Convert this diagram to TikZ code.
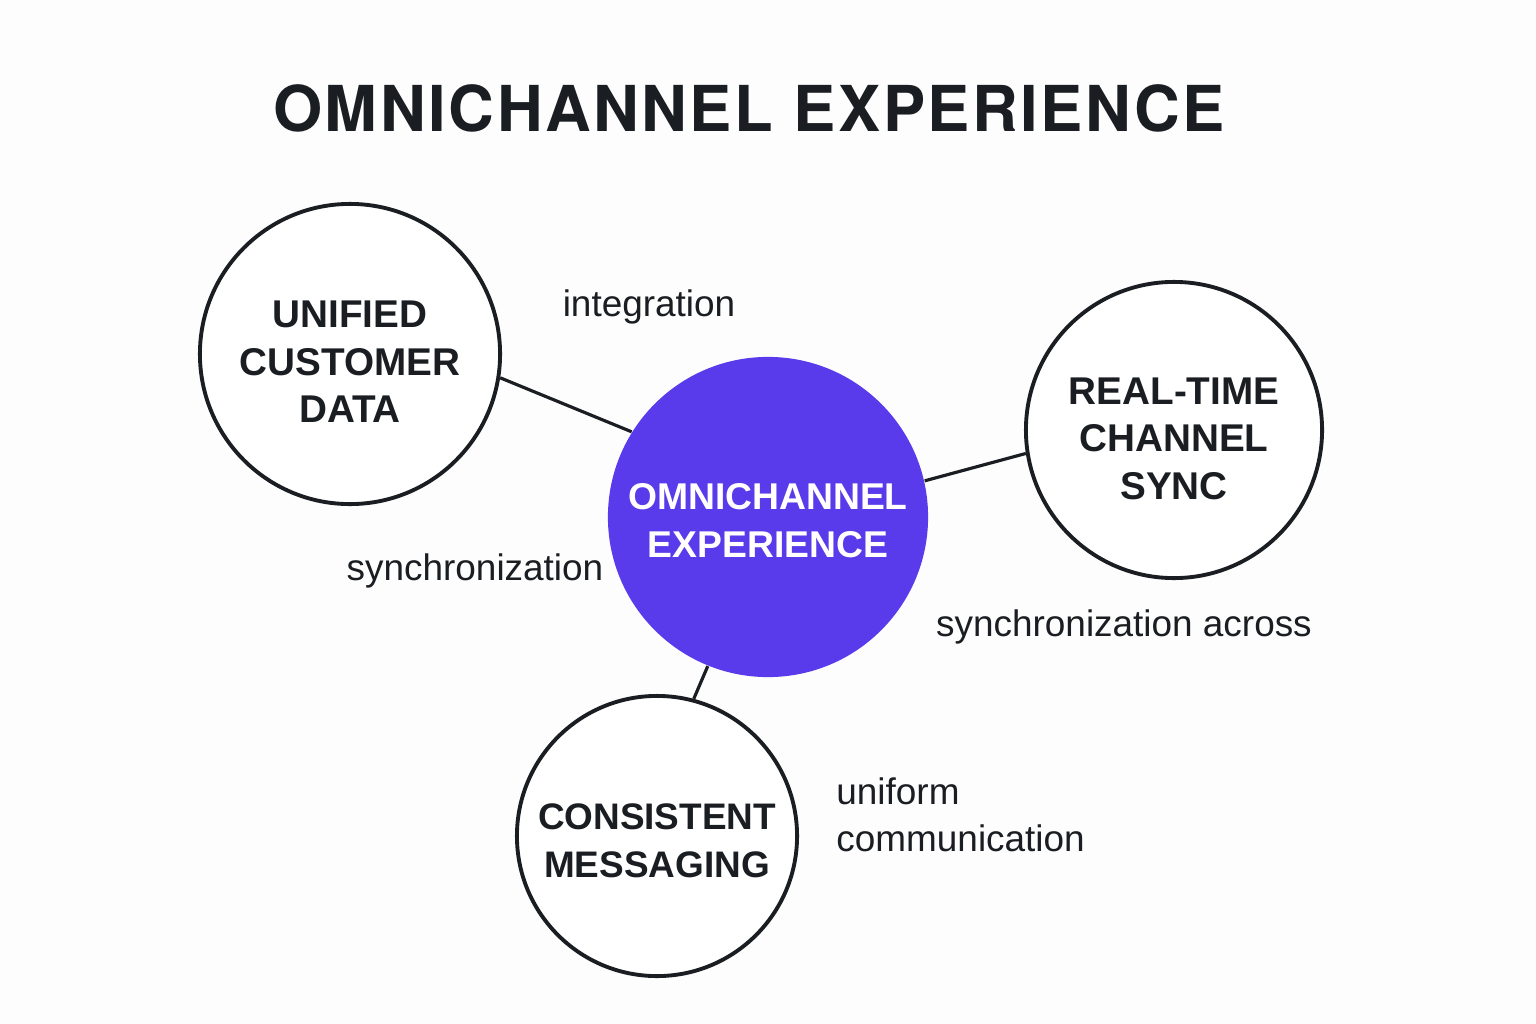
\documentclass[tikz,border=0pt]{standalone}
\usepackage{fontspec}
\setmainfont{Liberation Sans}
\newfontfamily\titlefont[LetterSpace=4]{TeX Gyre Heros}
\usepackage{tikz}
\definecolor{inkdark}{HTML}{1A1D21}
\definecolor{omniblue}{HTML}{5A3BEB}
\definecolor{paper}{HTML}{FDFDFD}
\newcommand{\hubstrut}[1]{\rule{0pt}{#1}}

\begin{document}
\begin{tikzpicture}[x=0.01cm, y=-0.01cm,
    hub/.style={circle, draw=inkdark, line width=1.1pt, fill=white, inner sep=0pt, minimum size=3cm,
        align=center, text=inkdark, font=\fontsize{11}{13.5}\selectfont\bfseries},
    link/.style={draw=inkdark, line width=0.9pt},
    note/.style={text=inkdark, font=\fontsize{10.5}{13.4}\selectfont}]
    \fill[paper] (0, 0) rectangle (1536, 1024);
    \useasboundingbox (0, 0) rectangle (1536, 1024);

    % Title
    \node[text=inkdark, font=\fontsize{18}{22}\selectfont\titlefont\bfseries] (title) at (749, 108) {OMNICHANNEL EXPERIENCE};

    % The centre and the three channels
    \node[circle, fill=omniblue, inner sep=0pt, minimum size=3.2cm, align=center, text=white,
        font=\fontsize{10.6}{13.4}\selectfont\bfseries] (omni) at (768, 517) {\hubstrut{9.5pt}OMNICHANNEL\\EXPERIENCE};
    \node[hub] (unified) at (350, 354) {\hubstrut{12pt}UNIFIED\\CUSTOMER\\DATA};
    \node[hub, minimum size=2.96cm] (realtime) at (1174, 430) {\hubstrut{12.5pt}REAL-TIME\\CHANNEL\\SYNC};
    \node[hub, minimum size=2.8cm, font=\fontsize{10.5}{13.5}\selectfont\bfseries] (consistent) at (657, 836) {\hubstrut{10pt}CONSISTENT\\MESSAGING};

    \draw[link] (unified.-9) -- (omni.148);
    \draw[link] (realtime.-171.5) -- (omni.13.6);
    \draw[link] (consistent.75) -- (omni.-112.7);

    % Labels
    \node[note] (lblintegration) at (649, 307) {integration};
    \node[note] (lblsync) at (475, 571) {synchronization};
    \node[note] (lblacross) at (1124, 627) {synchronization across};
    \node[note, anchor=west, align=left] (lbluniform) at (824, 815) {uniform\\communication};
\end{tikzpicture}
\end{document}
